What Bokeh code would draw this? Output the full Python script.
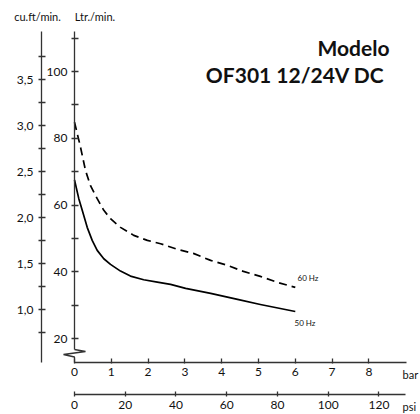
from bokeh.plotting import figure
from bokeh.models import Range1d, LinearAxis, FixedTicker, CustomJSTickFormatter, Label
from bokeh.embed import file_html
from bokeh.resources import INLINE

# ---------------- data ----------------
pressure_50hz_bar = [0.0, 0.117, 0.21, 0.345, 0.481, 0.617, 0.796, 0.978, 1.25, 1.52, 1.88, 2.25,
                     2.61, 3.02, 3.70, 4.43, 5.05, 6.0]
flow_50hz_lpm = [67.5, 61.9, 58.4, 53.3, 49.4, 46.4, 43.9, 42.2, 40.2, 38.7, 37.6, 36.9,
                 36.2, 35.0, 33.5, 31.7, 30.2, 28.1]

pressure_60hz_bar = [0.0, 0.16, 0.30, 0.435, 0.617, 0.796, 0.978, 1.25, 1.61, 1.98, 2.34,
                     2.80, 3.23, 3.70, 4.16, 4.59, 5.05, 5.52, 6.0]
flow_60hz_lpm = [84.8, 77.5, 70.3, 65.8, 61.9, 58.4, 55.9, 53.3, 50.9, 49.4, 48.4,
                 46.7, 45.5, 43.4, 41.9, 40.1, 38.6, 36.8, 35.3]

bar_ticks = [0, 1, 2, 3, 4, 5, 6, 7, 8]
psi_ticks = [0, 20, 40, 60, 80, 100, 120]
lpm_ticks = [20, 40, 60, 80, 100]
lpm_minor = [30, 50, 70, 90, 110]
cuft_ticks = [1.0, 1.5, 2.0, 2.5, 3.0, 3.5]
cuft_minor = [0.75, 1.25, 1.75, 2.25, 2.75, 3.25, 3.75]

series_labels = ["50 Hz", "60 Hz"]
title_lines = ["Modelo", "OF301  12/24V DC"]
unit_labels = ["cu.ft/min.", "Ltr./min.", "bar", "psi"]

PSI_PER_BAR = 14.5038

# ---------------- geometry (screen layout) ----------------
W, H = 420, 414
X0 = 74.0          # pixel of 0 bar
PXB = 36.8         # pixels per bar
Y20 = 338.0        # pixel of 20 L/min
PXL = 3.3375       # pixels per L/min
Y1CU = 309.0       # pixel of 1.0 cu.ft/min
PXC = 92.0         # pixels per cu.ft/min


def bx(px):
    return (px - X0) / PXB


def ly(py):
    return 20 + (Y20 - py) / PXL


def cy(py):
    return 1 + (Y1CU - py) / PXC


FONT = "Lato"
AX = "#333333"
INK = "#111111"

p = figure(width=W, height=H,
           x_range=Range1d(bx(0), bx(W)), y_range=Range1d(ly(H), ly(0)),
           x_axis_type=None, y_axis_type=None,
           toolbar_location=None, output_backend="svg",
           min_border=0, outline_line_color=None, title=None)
p.extra_y_ranges = {"cu": Range1d(cy(H), cy(0))}
p.extra_x_ranges = {"psi": Range1d(bx(0) * PSI_PER_BAR, bx(W) * PSI_PER_BAR)}


def style(ax, tin, tout, standoff):
    ax.axis_line_color = AX
    ax.axis_line_width = 1.3
    ax.major_tick_line_color = AX
    ax.minor_tick_line_color = AX
    ax.major_tick_line_width = 1.3
    ax.minor_tick_line_width = 1.3
    ax.major_tick_in = tin
    ax.major_tick_out = tout
    ax.minor_tick_in = tin
    ax.minor_tick_out = tout
    ax.major_label_standoff = standoff
    ax.major_label_text_font = FONT
    ax.major_label_text_font_size = "12px"
    ax.major_label_text_color = INK


# Ltr./min. axis
ax_l = LinearAxis(ticker=FixedTicker(ticks=lpm_ticks, minor_ticks=lpm_minor),
                  fixed_location=0, bounds=(ly(349), ly(31)))
style(ax_l, 4, 3, 4)
p.add_layout(ax_l, "left")

# cu.ft/min. axis
ax_c = LinearAxis(y_range_name="cu",
                  ticker=FixedTicker(ticks=cuft_ticks, minor_ticks=cuft_minor),
                  formatter=CustomJSTickFormatter(code="return tick.toFixed(1).replace('.', ',');"),
                  fixed_location=bx(41), bounds=(cy(362), cy(31)))
style(ax_c, 4, 3, 5)
p.add_layout(ax_c, "left")

# bar axis
ax_b = LinearAxis(ticker=FixedTicker(ticks=bar_ticks),
                  fixed_location=ly(362), bounds=(0, bx(406)))
style(ax_b, 4, 1, 4)
p.add_layout(ax_b, "below")

# psi axis
ax_p = LinearAxis(x_range_name="psi", ticker=FixedTicker(ticks=psi_ticks),
                  fixed_location=ly(394), bounds=(0, bx(405) * PSI_PER_BAR))
style(ax_p, 3, 2, 4)
p.add_layout(ax_p, "below")

# axis break on the Ltr./min. axis
p.line([0, bx(85), bx(63), 0, 0], [ly(349), ly(351), ly(354), ly(356.5), ly(362)],
       line_color=AX, line_width=1.3)

# curves
p.line(pressure_50hz_bar, flow_50hz_lpm, line_color="black", line_width=1.7, line_join="round")
p.line(pressure_60hz_bar, flow_60hz_lpm, line_color="black", line_width=1.7, line_dash="8 5",
       line_join="round")

# texts
def lab(x, y, text, size, align="left", baseline="middle", bold=False):
    p.add_layout(Label(x=x, y=y, text=text, text_font=FONT, text_font_size=size,
                       text_align=align, text_baseline=baseline, text_color=INK,
                       text_font_style="bold" if bold else "normal"))


lab(bx(389), ly(47), title_lines[0], "21px", align="right", baseline="alphabetic", bold=True)
lab(bx(389), ly(74), title_lines[1], "21px", align="right", baseline="alphabetic", bold=True)
lab(bx(37), ly(15.5), unit_labels[0], "11px", align="center")
lab(bx(94.5), ly(15.5), unit_labels[1], "11px", align="center")
lab(bx(402), ly(374), unit_labels[2], "11px")
lab(bx(402), ly(406), unit_labels[3], "11px")
lab(bx(294), ly(322), series_labels[0], "8px")
lab(bx(297), ly(277), series_labels[1], "8px")

open("out.html", "w").write(file_html(p, INLINE))
